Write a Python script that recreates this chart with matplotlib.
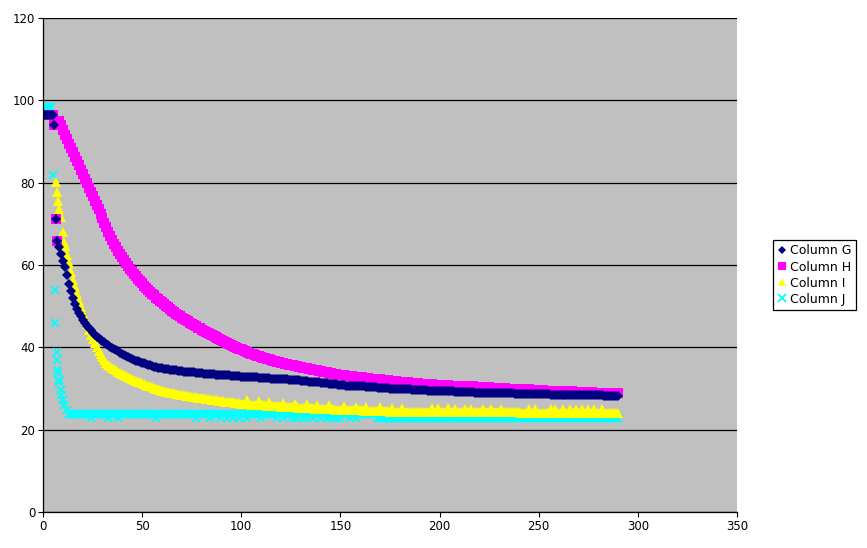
import matplotlib
matplotlib.use("Agg")
import matplotlib.pyplot as plt

# ---- data ----
g_x = [0, 1, 2, 3, 4, 5, 5.5, 6.7, 7.1] + list(range(8, 291))
g_y = [96.4, 96.4, 96.4, 96.4, 96.4, 96.4, 94.1, 71.1, 65.9,
       64.3, 62.6,
       61.0, 59.6, 57.5, 55.4, 53.6, 52.0, 50.6, 49.4, 48.4, 47.5,
       46.7, 46.0, 45.3, 44.7, 44.1, 43.6, 43.1, 42.6, 42.2, 41.8,
       41.5, 41.2, 40.9, 40.6, 40.2, 39.9, 39.6, 39.3, 39.0, 38.7,
       38.4, 38.2, 37.9, 37.7, 37.4, 37.2, 37.0, 36.8, 36.6, 36.4,
       36.2, 36.1, 35.9, 35.7, 35.6, 35.4, 35.3, 35.2, 35.1, 35.0,
       34.9, 34.8, 34.7, 34.7, 34.6, 34.5, 34.4, 34.4, 34.3, 34.3,
       34.2, 34.1, 34.1, 34.0, 34.0, 33.9, 33.9, 33.8, 33.8, 33.7,
       33.7, 33.6, 33.6, 33.6, 33.5, 33.5, 33.5, 33.4, 33.4, 33.3,
       33.3, 33.3, 33.2, 33.2, 33.2, 33.1, 33.1, 33.0, 33.0, 33.0,
       32.9, 32.9, 32.9, 32.8, 32.8, 32.8, 32.7, 32.7, 32.7, 32.6,
       32.6, 32.6, 32.5, 32.5, 32.5, 32.4, 32.4, 32.4, 32.4, 32.3,
       32.3, 32.3, 32.2, 32.2, 32.1, 32.1, 32.1, 32.0, 32.0, 32.0,
       31.9, 31.9, 31.8, 31.8, 31.7, 31.7, 31.6, 31.6, 31.5, 31.5,
       31.4, 31.4, 31.3, 31.3, 31.2, 31.1, 31.1, 31.0, 31.0, 30.9,
       30.8, 30.8, 30.8, 30.7, 30.7, 30.7, 30.6, 30.6, 30.6, 30.5,
       30.5, 30.5, 30.5, 30.4, 30.4, 30.4, 30.3, 30.3, 30.3, 30.2,
       30.2, 30.2, 30.1, 30.1, 30.1, 30.0, 30.0, 30.0, 29.9, 29.9,
       29.9, 29.9, 29.8, 29.8, 29.8, 29.8, 29.7, 29.7, 29.7, 29.7,
       29.6, 29.6, 29.6, 29.6, 29.5, 29.5, 29.5, 29.5, 29.4, 29.4,
       29.4, 29.4, 29.4, 29.3, 29.3, 29.3, 29.3, 29.3, 29.2, 29.2,
       29.2, 29.2, 29.2, 29.1, 29.1, 29.1, 29.1, 29.1, 29.0, 29.0,
       29.0, 29.0, 29.0, 28.9, 28.9, 28.9, 28.9, 28.9, 28.9, 28.9,
       28.9, 28.8, 28.8, 28.8, 28.8, 28.8, 28.8, 28.8, 28.7, 28.7,
       28.7, 28.7, 28.7, 28.7, 28.7, 28.6, 28.6, 28.6, 28.6, 28.6,
       28.6, 28.6, 28.6, 28.6, 28.6, 28.6, 28.5, 28.5, 28.5, 28.5,
       28.5, 28.5, 28.5, 28.5, 28.5, 28.4, 28.4, 28.4, 28.4, 28.4,
       28.4, 28.4, 28.4, 28.4, 28.3, 28.3, 28.3, 28.3, 28.3, 28.3,
       28.3, 28.3, 28.3, 28.2, 28.2, 28.2, 28.2, 28.2, 28.2, 28.2,
       28.2]

h_x = [0, 1, 2, 3, 4, 5, 5.5, 6.7, 7.1] + list(range(8, 291))
h_y = [96.4, 96.4, 96.4, 96.4, 96.4, 96.4, 94.1, 71.1, 65.9,
       95.0, 93.9,
       92.8, 91.7, 90.6, 89.5, 88.5, 87.4, 86.3, 85.2, 84.2, 83.1,
       82.0, 81.0, 79.9, 78.8, 77.8, 76.7, 75.6, 74.6, 73.5, 72.5,
       71.4, 70.3, 69.2, 68.1, 67.0, 66.1, 65.2, 64.3, 63.5, 62.7,
       61.9, 61.2, 60.5, 59.8, 59.1, 58.5, 57.9, 57.3, 56.7, 56.1,
       55.6, 55.0, 54.5, 54.0, 53.5, 53.0, 52.6, 52.1, 51.7, 51.3,
       50.9, 50.5, 50.1, 49.7, 49.3, 48.9, 48.6, 48.2, 47.9, 47.5,
       47.2, 46.9, 46.6, 46.3, 46.0, 45.7, 45.4, 45.1, 44.8, 44.6,
       44.3, 44.0, 43.8, 43.5, 43.3, 43.0, 42.8, 42.5, 42.3, 42.0,
       41.8, 41.5, 41.3, 41.0, 40.8, 40.6, 40.3, 40.1, 39.9, 39.7,
       39.5, 39.3, 39.1, 38.9, 38.7, 38.5, 38.4, 38.2, 38.0, 37.8,
       37.7, 37.5, 37.4, 37.2, 37.1, 36.9, 36.8, 36.7, 36.5, 36.4,
       36.3, 36.2, 36.0, 35.9, 35.8, 35.7, 35.6, 35.5, 35.4, 35.3,
       35.2, 35.1, 35.0, 34.9, 34.8, 34.7, 34.6, 34.5, 34.4, 34.3,
       34.2, 34.1, 34.0, 33.9, 33.8, 33.7, 33.6, 33.6, 33.5, 33.4,
       33.3, 33.3, 33.2, 33.1, 33.1, 33.0, 33.0, 32.9, 32.8, 32.8,
       32.7, 32.7, 32.6, 32.5, 32.5, 32.4, 32.4, 32.3, 32.3, 32.2,
       32.2, 32.1, 32.1, 32.0, 32.0, 31.9, 31.9, 31.8, 31.8, 31.7,
       31.7, 31.6, 31.6, 31.5, 31.5, 31.4, 31.4, 31.4, 31.3, 31.3,
       31.2, 31.2, 31.1, 31.1, 31.1, 31.0, 31.0, 30.9, 30.9, 30.9,
       30.8, 30.8, 30.8, 30.8, 30.8, 30.7, 30.7, 30.7, 30.7, 30.7,
       30.6, 30.6, 30.6, 30.6, 30.5, 30.5, 30.5, 30.5, 30.4, 30.4,
       30.4, 30.4, 30.3, 30.3, 30.3, 30.3, 30.2, 30.2, 30.2, 30.2,
       30.1, 30.1, 30.1, 30.1, 30.0, 30.0, 30.0, 30.0, 29.9, 29.9,
       29.9, 29.9, 29.8, 29.8, 29.8, 29.8, 29.7, 29.7, 29.7, 29.6,
       29.6, 29.6, 29.6, 29.5, 29.5, 29.5, 29.5, 29.5, 29.4, 29.4,
       29.4, 29.4, 29.4, 29.3, 29.3, 29.3, 29.3, 29.3, 29.2, 29.2,
       29.2, 29.2, 29.2, 29.1, 29.1, 29.1, 29.1, 29.1, 29.0, 29.0,
       29.0, 29.0, 28.9, 28.9, 28.9, 28.9, 28.9, 28.8, 28.8, 28.8,
       28.8]

i_x = [6.7, 7.2, 7.7, 8.3, 9.2, 10, 10.7] + list(range(11, 291))
i_y = [80.2, 77.8, 75.6, 73.5, 71.6, 68.1, 65.7,
       64.6, 62.5, 60.4, 58.3, 56.4, 54.6, 52.9, 51.3, 49.8,
       48.3, 46.9, 45.6, 44.3, 43.1, 42.0, 41.0, 40.1, 39.2, 38.4,
       37.6, 36.9, 36.3, 35.8, 35.4, 35.0, 34.7, 34.4, 34.1, 33.8,
       33.6, 33.3, 33.1, 32.8, 32.6, 32.3, 32.1, 31.9, 31.7, 31.5,
       31.3, 31.1, 30.9, 30.7, 30.5, 30.3, 30.1, 30.0, 29.8, 29.6,
       29.5, 29.4, 29.2, 29.1, 29.0, 28.9, 28.8, 28.7, 28.6, 28.5,
       28.4, 28.3, 28.2, 28.2, 28.1, 28.0, 27.9, 27.9, 27.8, 27.7,
       27.7, 27.6, 27.5, 27.5, 27.4, 27.3, 27.3, 27.2, 27.1, 27.0,
       27.0, 26.9, 26.8, 26.8, 26.7, 26.6, 26.6, 26.5, 26.4, 26.4,
       26.3, 26.3, 26.2, 27.1, 26.2, 26.1, 26.1, 26.0, 26.0, 26.9,
       25.9, 25.9, 25.9, 25.8, 26.7, 25.8, 25.7, 25.7, 25.7, 25.7,
       25.6, 26.5, 25.6, 25.5, 25.5, 25.5, 25.4, 26.3, 25.4, 25.3,
       25.3, 25.3, 25.3, 26.2, 25.2, 25.2, 25.2, 25.1, 26.0, 25.1,
       25.0, 25.0, 25.0, 25.0, 25.9, 24.9, 24.9, 24.9, 24.8, 24.8,
       24.8, 24.8, 25.7, 24.8, 24.8, 24.8, 24.7, 24.7, 25.6, 24.7,
       24.7, 24.7, 24.6, 25.5, 24.6, 24.6, 24.6, 24.6, 24.5, 24.5,
       25.4, 24.5, 24.5, 24.5, 24.5, 24.4, 25.3, 24.4, 24.4, 24.4,
       24.4, 25.3, 24.4, 24.4, 24.4, 24.4, 24.4, 24.4, 24.4, 24.4,
       24.4, 24.3, 24.3, 24.3, 24.3, 24.3, 25.2, 24.3, 24.3, 25.2,
       24.3, 24.3, 24.3, 24.3, 25.2, 24.3, 24.2, 24.2, 25.1, 24.2,
       24.2, 24.2, 24.2, 25.1, 24.2, 24.2, 25.1, 24.2, 24.2, 24.2,
       24.2, 24.2, 25.1, 24.2, 24.2, 24.2, 25.1, 24.2, 24.2, 24.2,
       24.2, 25.1, 24.2, 24.2, 24.2, 24.2, 24.2, 24.2, 24.2, 24.2,
       24.2, 24.1, 24.1, 24.1, 24.1, 25.0, 24.1, 24.1, 25.0, 24.1,
       24.1, 24.1, 24.1, 24.1, 24.1, 24.1, 25.0, 24.1, 25.0, 24.1,
       24.1, 24.1, 25.0, 24.1, 24.1, 24.1, 25.0, 24.1, 24.1, 25.0,
       24.1, 24.0, 24.9, 24.0, 24.0, 24.9, 24.0, 24.0, 24.9, 24.0,
       24.0, 24.0, 24.9, 24.0, 24.0, 24.0, 24.0, 24.0, 24.0, 24.0,
       24.0]

j_x = [0, 1, 2, 3, 4, 5, 6, 6.2, 7, 7.1, 7.3, 7.6, 8, 8.3, 8.9, 9.3, 10,
       10.7, 12] + list(range(13, 291))
j_y = [98.3, 98.3, 98.3, 98.3, 98.3, 81.9, 53.9, 45.8, 38.9, 36.9, 34.5,
       33.8, 32.1, 31.6, 29.6, 28.4, 27.2, 26.0, 24.8,
       23.8, 23.8, 23.8, 23.8, 23.8, 23.8, 23.8,
       23.8, 23.8, 23.8, 23.8, 22.8, 23.8, 23.8, 23.8, 23.8, 23.8,
       23.8, 23.8, 23.8, 22.8, 23.8, 23.8, 23.8, 23.8, 22.8, 23.8,
       23.8, 23.8, 23.8, 23.8, 23.8, 23.8, 23.8, 23.8, 23.8, 23.8,
       23.8, 23.8, 23.8, 23.8, 23.8, 23.8, 23.8, 22.8, 23.8, 23.8,
       23.8, 23.8, 23.8, 23.8, 23.8, 23.8, 23.8, 23.8, 23.8, 23.8,
       23.8, 23.8, 23.8, 23.8, 23.8, 23.8, 23.8, 22.8, 23.8, 23.8,
       23.8, 23.8, 23.8, 23.8, 22.8, 23.8, 23.8, 23.8, 23.8, 23.8,
       22.8, 23.8, 23.8, 22.8, 23.8, 23.8, 22.8, 23.8, 23.8, 22.8,
       23.8, 23.8, 23.8, 22.8, 23.8, 23.8, 23.8, 23.8, 23.8, 23.8,
       22.8, 23.8, 23.8, 23.8, 23.8, 23.8, 23.8, 23.8, 22.8, 23.8,
       23.8, 22.8, 23.8, 23.8, 23.8, 23.8, 22.8, 23.8, 22.8, 23.8,
       23.8, 22.8, 23.8, 22.8, 23.8, 23.8, 22.8, 23.8, 23.8, 23.8,
       22.8, 23.8, 23.8, 22.8, 23.8, 22.8, 23.8, 23.8, 22.8, 23.8,
       22.8, 23.8, 23.8, 23.8, 23.8, 22.8, 23.8, 23.8, 22.8, 23.8,
       23.8, 23.8, 23.8, 23.8, 23.8, 23.8, 23.8, 23.8, 23.8, 22.8,
       22.8, 22.8, 22.8, 22.8, 22.8, 22.8, 22.8, 22.8, 22.8, 22.8,
       22.8, 22.8, 22.8, 22.8, 22.8, 22.8, 22.8, 22.8, 22.8, 22.8,
       22.8, 22.8, 22.8, 22.8, 22.8, 22.8, 22.8, 22.8, 22.8, 22.8,
       22.8, 22.8, 22.8, 22.8, 22.8, 22.8, 22.8, 22.8, 22.8, 22.8,
       22.8, 22.8, 22.8, 22.8, 22.8, 22.8, 22.8, 22.8, 22.8, 22.8,
       22.8, 22.8, 22.8, 22.8, 22.8, 22.8, 22.8, 22.8, 22.8, 22.8,
       22.8, 22.8, 22.8, 22.8, 22.8, 22.8, 22.8, 22.8, 22.8, 22.8,
       22.8, 22.8, 22.8, 22.8, 22.8, 22.8, 22.8, 22.8, 22.8, 22.8,
       22.8, 22.8, 22.8, 22.8, 22.8, 22.8, 22.8, 22.8, 22.8, 22.8,
       22.8, 22.8, 22.8, 22.8, 22.8, 22.8, 22.8, 22.8, 22.8, 22.8,
       22.8, 22.8, 22.8, 22.8, 22.8, 22.8, 22.8, 22.8, 22.8, 22.8,
       22.8, 22.8, 22.8, 22.8, 22.8, 22.8, 22.8, 22.8, 22.8, 22.8,
       22.8]

labels = ["Column G", "Column H", "Column I", "Column J"]
x_ticks = [0, 50, 100, 150, 200, 250, 300, 350]
y_ticks = [0, 20, 40, 60, 80, 100, 120]

plt.rcParams['font.family'] = ['DejaVu Sans']

fig = plt.figure(figsize=(8.67, 5.48), dpi=100)
ax = fig.add_axes([43 / 867, 36 / 548, 694 / 867, 494 / 548])
ax.set_facecolor('#c0c0c0')

# drawn back to front: J, I, H, G (G ends up on top)
lj, = ax.plot(j_x, j_y, linestyle='none', marker='x', ms=6, mew=1.3,
              color='#00ffff', label=labels[3])
li, = ax.plot(i_x, i_y, linestyle='none', marker='^', ms=7.5, mew=0,
              color='#ffff00', label=labels[2])
lh, = ax.plot(h_x, h_y, linestyle='none', marker='s', ms=7, mew=0,
              color='#ff00ff', label=labels[1])
lg, = ax.plot(g_x, g_y, linestyle='none', marker='D', ms=5.2, mew=0,
              color='#000080', label=labels[0])

ax.set_xlim(0, 350)
ax.set_ylim(0, 120)
ax.set_xticks(x_ticks)
ax.set_yticks(y_ticks)
ax.yaxis.grid(True, color='black', linewidth=0.9)
ax.set_axisbelow(True)
ax.tick_params(direction='out', length=3.5, width=0.8, labelsize=8.5,
               pad=2, colors='black')
for side in ['top', 'right']:
    ax.spines[side].set_visible(False)
for side in ['left', 'bottom']:
    ax.spines[side].set_linewidth(0.9)

leg = fig.legend([lg, lh, li, lj], labels, loc='center left',
                 bbox_to_anchor=(773 / 867, 0.498), fontsize=9,
                 frameon=True, fancybox=False, edgecolor='black',
                 framealpha=1, handlelength=0.7, handletextpad=0.3,
                 borderpad=0.35, labelspacing=0.25, borderaxespad=0,
                 markerscale=0.85)
leg.get_frame().set_linewidth(0.9)

fig.savefig('out.png', dpi=100)
